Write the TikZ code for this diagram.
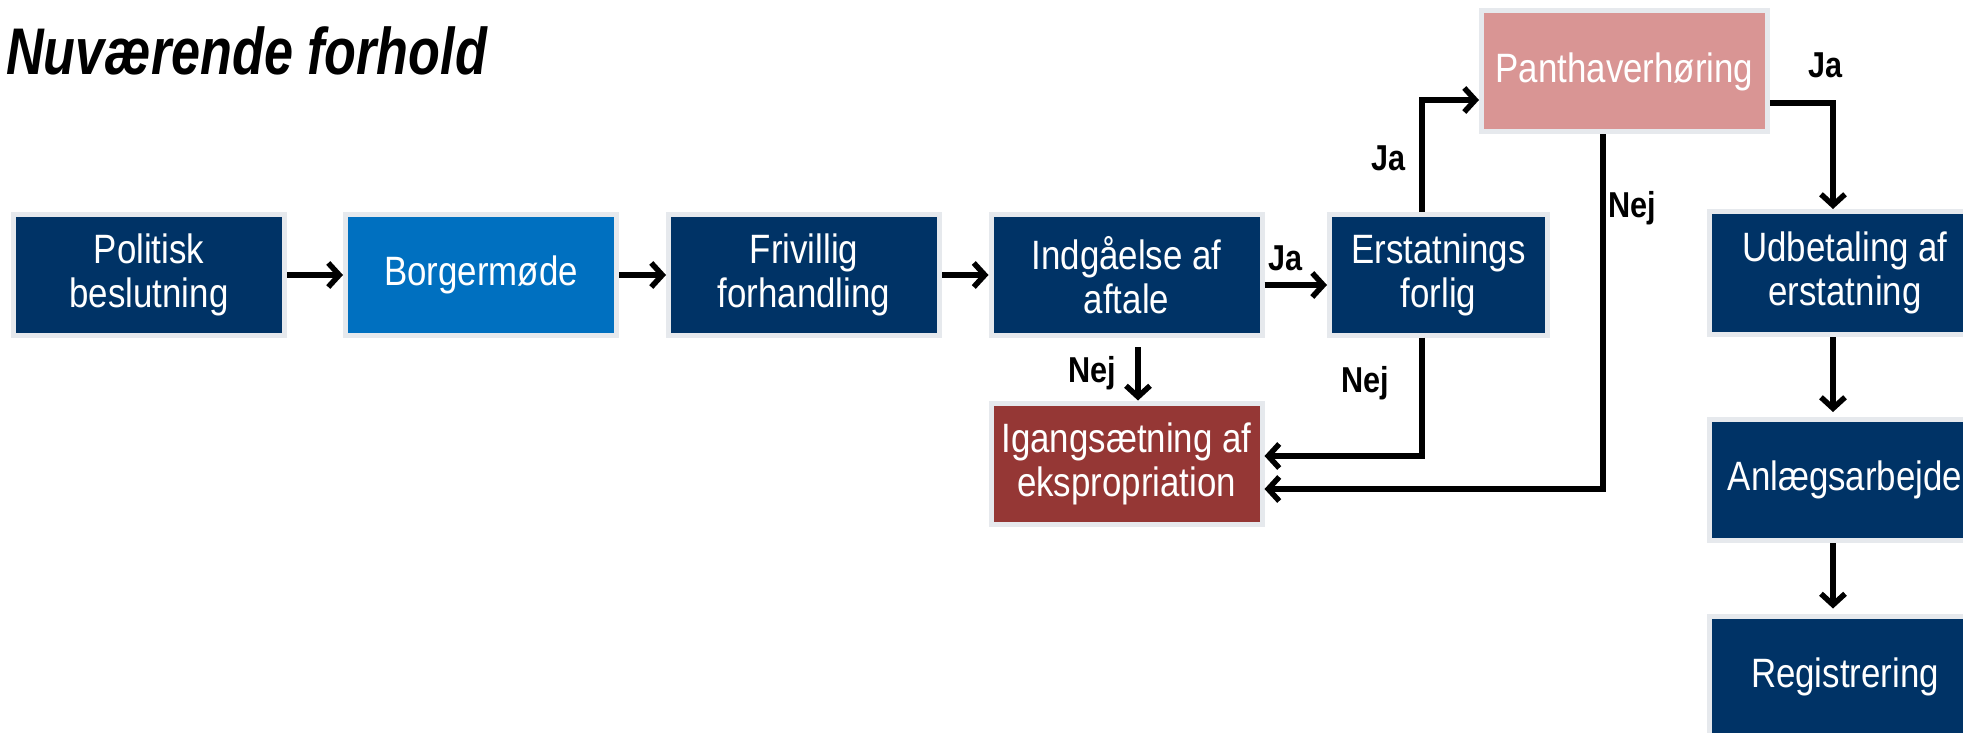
\documentclass[tikz,border=0pt]{standalone}
\usepackage{fontspec}
\setmainfont{Liberation Sans}
\newfontfamily\boxfont[FakeStretch=0.85]{Liberation Sans}
\newfontfamily\titlefont[FakeStretch=0.79]{Liberation Sans}
\usetikzlibrary{arrows.meta}
\definecolor{navy}{HTML}{003366}
\definecolor{midblue}{HTML}{0070C0}
\definecolor{darkred}{HTML}{953735}
\definecolor{pinkbox}{HTML}{D99594}
\definecolor{edgegray}{HTML}{E6E9ED}
\begin{document}
\begin{tikzpicture}[x=1pt,y=-1pt,
  boxst/.style={draw=edgegray, line width=5pt, fill=navy, text=white, inner sep=0pt,
    outer sep=2.5pt, minimum width=271pt, minimum height=121pt, align=center,
    font=\boxfont\fontsize{41}{44}\selectfont},
  arr/.style={line width=5.5pt, -{Straight Barb[length=11pt,width=24pt]}},
  lab/.style={font=\boxfont\bfseries\fontsize{36}{40}\selectfont, inner sep=0pt, anchor=base west}
]
\useasboundingbox (0,0) rectangle (1963,733);

\node[anchor=base west, inner sep=0pt, font=\titlefont\bfseries\itshape\fontsize{66}{70}\selectfont] (title) at (6,75) {Nuværende forhold};

\node[boxst] (pol) at (149,275) {Politisk\\beslutning};
\node[boxst, fill=midblue] (bor) at (481,275) {Borgermøde};
\node[boxst] (fri) at (804,275) {Frivillig\\forhandling};
\node[boxst] (ind) at (1126.5,275) {Indgåelse af\\aftale};
\node[boxst, minimum width=218pt] (ers) at (1438.5,274.5) {Erstatnings\\forlig};
\node[boxst, fill=pinkbox, minimum width=286pt] (pan) at (1624.5,71.5) {Panthaverhøring};
\node[boxst, fill=darkred] (iga) at (1126.5,463.5) {Igangsætning af\\ekspropriation};
\node[boxst, minimum height=123pt] (udb) at (1845,273) {Udbetaling af\\erstatning};
\node[boxst] (anl) at (1845,480) {Anlægsarbejde};
\node[boxst] (reg) at (1845,676.5) {Registrering};

\draw[arr] (pol) -- (bor);
\draw[arr] (bor) -- (fri);
\draw[arr] (fri) -- (ind);

\draw[arr] ([yshift=-10pt]ind.east) -- ([yshift=-10pt]ind.east -| ers.west);
\node[lab] (ja1) at (1268,270) {Ja};

\draw[arr] ([xshift=11.5pt,yshift=-9pt]ind.south) -- ([xshift=11.5pt]iga.north);
\node[lab] (nej1) at (1068,382) {Nej};

\draw[arr] ([xshift=-16.5pt]ers.north) |- ([yshift=-28.5pt]pan.west);
\node[lab] (ja2) at (1371,171) {Ja};

\draw[arr] ([xshift=-16.5pt]ers.south) |- ([yshift=7.5pt]iga.east);
\node[lab] (nej2) at (1341,392) {Nej};

\draw[arr] ([xshift=-21.5pt]pan.south) |- ([yshift=-25.5pt]iga.east);
\node[lab] (nej3) at (1608,217) {Nej};

\draw[arr] ([yshift=-31.5pt]pan.east) -| ([xshift=-12pt]udb.north);
\node[lab] (ja3) at (1808,78) {Ja};

\draw[arr] ([xshift=-12pt]udb.south) -- ([xshift=-12pt,yshift=5pt]anl.north);
\draw[arr] ([xshift=-12pt]anl.south) -- ([xshift=-12pt,yshift=5pt]reg.north);
\end{tikzpicture}
\end{document}
